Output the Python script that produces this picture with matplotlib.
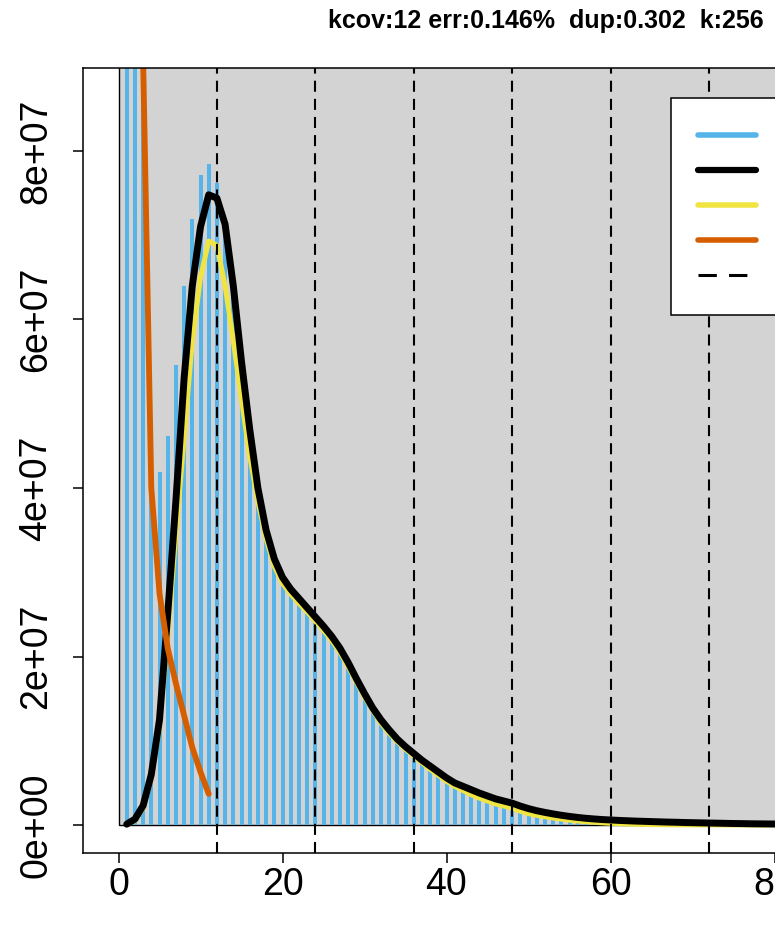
import numpy as np
import matplotlib
matplotlib.use("Agg")
import matplotlib.pyplot as plt
from matplotlib.patches import Rectangle
from matplotlib.lines import Line2D

plt.rcParams['font.family'] = ['Liberation Sans', 'DejaVu Sans']

# ---------------- data (values in millions of k-mers) ----------------
title = "kcov:12 err:0.146%  dup:0.302  k:256"

observed = [250, 140, 100, 47.9, 41.9, 46.2, 54.6, 64.0, 71.9, 77.2,
            78.5, 76.2, 71.0, 63.0, 53.5, 45.0, 38.4, 34.0, 30.6, 28.5,
            27.2, 26.1, 25.1, 24.0, 22.9, 21.7, 20.3, 18.6, 16.8, 15.0,
            13.4, 12.0, 10.8, 9.8, 8.8, 8.0, 7.2, 6.4, 5.7, 5.0,
            4.4, 3.9, 3.4, 3.0, 2.65, 2.3, 2.05, 1.8, 1.5, 1.2,
            0.95, 0.78, 0.63, 0.52, 0.42, 0.34, 0.27, 0.21, 0.16, 0.12,
            0.09, 0.07, 0.05, 0.04, 0.03, 0.025, 0.02, 0.015, 0.012, 0.01]

full_model = [0.1, 0.7, 2.3, 6.0, 12.5, 25.0, 38.5, 53.0, 64.0, 71.0,
              74.8, 74.4, 71.3, 64.0, 55.0, 47.0, 40.0, 35.0, 31.6, 29.4,
              28.0, 26.9, 25.8, 24.7, 23.6, 22.4, 21.0, 19.3, 17.4, 15.6,
              13.9, 12.5, 11.3, 10.2, 9.3, 8.5, 7.7, 7.0, 6.3, 5.6,
              5.0, 4.6, 4.2, 3.8, 3.45, 3.1, 2.85, 2.6, 2.25, 1.95,
              1.7, 1.5, 1.32, 1.16, 1.02, 0.9, 0.8, 0.72, 0.65, 0.6,
              0.55, 0.51, 0.47, 0.44, 0.41, 0.38, 0.35, 0.33, 0.3, 0.28,
              0.26, 0.24, 0.22, 0.2, 0.18, 0.17, 0.15, 0.14, 0.13, 0.12,
              0.11, 0.1, 0.09, 0.085, 0.08]

unique_seq = [0.05, 0.5, 2.0, 5.5, 11.5, 22.5, 34.5, 46.0, 57.5, 65.0,
              69.3, 68.8, 64.0, 57.5, 50.5, 43.8, 38.4, 34.0, 30.7, 28.7,
              27.4, 26.3, 25.3, 24.2, 23.1, 21.9, 20.5, 18.8, 17.0, 15.2,
              13.6, 12.1, 10.9, 9.9, 9.0, 8.2, 7.4, 6.6, 5.9, 5.2,
              4.6, 4.1, 3.6, 3.2, 2.85, 2.5, 2.25, 2.0, 1.65, 1.35,
              1.15, 0.98, 0.83, 0.7, 0.58, 0.48, 0.4, 0.32, 0.26, 0.2,
              0.16, 0.12, 0.09, 0.07, 0.05, 0.04, 0.03, 0.02, 0.015, 0.01,
              0.008, 0.006, 0.005, 0.004, 0.003, 0.002, 0.002, 0.001, 0.001, 0.001,
              0.001, 0.0, 0.0, 0.0, 0.0]

error_cov = [3, 4, 5, 6, 7, 8, 9, 10, 11]
errors = [91.0, 40.0, 27.5, 21.0, 16.8, 13.0, 9.2, 6.3, 3.7]

kcov = 12
peaks = [kcov * i for i in range(1, 7)]

x_ticks = [0, 20, 40, 60, 80, 100]
y_ticks = [0, 20, 40, 60, 80]
y_tick_labels = ["0e+00", "2e+07", "4e+07", "6e+07", "8e+07"]

legend_labels = ["observed", "full model", "unique sequence", "errors", "kmer-peaks"]

# ---------------- style ----------------
C_BG = "#D3D3D3"
C_HIST = "#56B4E9"
C_FULL = "black"
C_UNIQUE = "#F0E442"
C_ERR = "#D55E00"
C_PEAK = "black"

M = 1e6
obs_cov = np.arange(1, len(observed) + 1)
mod_cov = np.arange(1, len(full_model) + 1)

W, H = 775, 926
fig = plt.figure(figsize=(W / 100, H / 100), dpi=100)
x0_px, px_per_unit = 118.5, 8.2
xl = (83 - x0_px) / px_per_unit
xr = 112.3
right_px = x0_px + xr * px_per_unit
ax = fig.add_axes([83 / W, 1 - 853 / H, (right_px - 83) / W, (853 - 68) / H])
ax.set_xlim(xl, xr)
ax.set_ylim(-3.32e6, 89.85e6)

# background rectangle (like R rect), extends past the visible area
ax.add_patch(Rectangle((0, 0), max(mod_cov) * 1.1, max(observed) * M * 1.1,
                       facecolor=C_BG, edgecolor="black", lw=1.0, zorder=1))
# histogram as vertical lines
ax.vlines(obs_cov, 0, np.array(observed) * M, colors=C_HIST, lw=2.9, zorder=2)

# model curves
ax.plot(mod_cov, np.array(unique_seq) * M, color=C_UNIQUE, lw=3.6,
        solid_capstyle="round", solid_joinstyle="round", zorder=3)
ax.plot(mod_cov, np.array(full_model) * M, color=C_FULL, lw=5.0,
        solid_capstyle="round", solid_joinstyle="round", zorder=4)
ax.plot(error_cov, np.array(errors) * M, color=C_ERR, lw=4.2,
        solid_capstyle="round", solid_joinstyle="round", zorder=5)
for p in peaks:
    ax.axvline(p, color=C_PEAK, lw=1.5, linestyle=(0, (5.3, 3.4)), zorder=6)

# axes styling
for s in ["left", "top", "bottom"]:
    ax.spines[s].set_linewidth(1.1)
    ax.spines[s].set_zorder(10)
ax.spines["right"].set_visible(False)

ax.set_xticks(x_ticks)
ax.set_xticklabels([str(v) for v in x_ticks])
ax.set_yticks(np.array(y_ticks) * M)
ax.set_yticklabels(y_tick_labels)
ax.tick_params(axis="both", direction="out", length=7, width=1.1, labelsize=27)
ax.tick_params(axis="x", pad=3)
ax.tick_params(axis="y", labelrotation=90, pad=13.5)
for lab in ax.get_yticklabels():
    lab.set_va("center")

# legend
handles = [
    Line2D([], [], color=C_HIST, lw=4, solid_capstyle="round"),
    Line2D([], [], color=C_FULL, lw=4.5, solid_capstyle="round"),
    Line2D([], [], color=C_UNIQUE, lw=4, solid_capstyle="round"),
    Line2D([], [], color=C_ERR, lw=4, solid_capstyle="round"),
    Line2D([], [], color=C_PEAK, lw=2.2, linestyle=(0, (6, 4))),
]
leg = ax.legend(handles, legend_labels, loc="upper left",
                bbox_to_anchor=(671 / W, 1 - 98 / H), bbox_transform=fig.transFigure,
                fontsize=18, frameon=True, fancybox=False, framealpha=1,
                edgecolor="black", borderpad=1.06, labelspacing=0.44,
                handlelength=2.32, handletextpad=1.0, borderaxespad=0)
leg.get_frame().set_linewidth(1.1)
leg.set_zorder(20)

fig.text(545.5 / W, 1 - 21 / H, title, ha="center", va="center",
         fontsize=18, fontweight="bold")

fig.savefig("out.png", dpi=100)
